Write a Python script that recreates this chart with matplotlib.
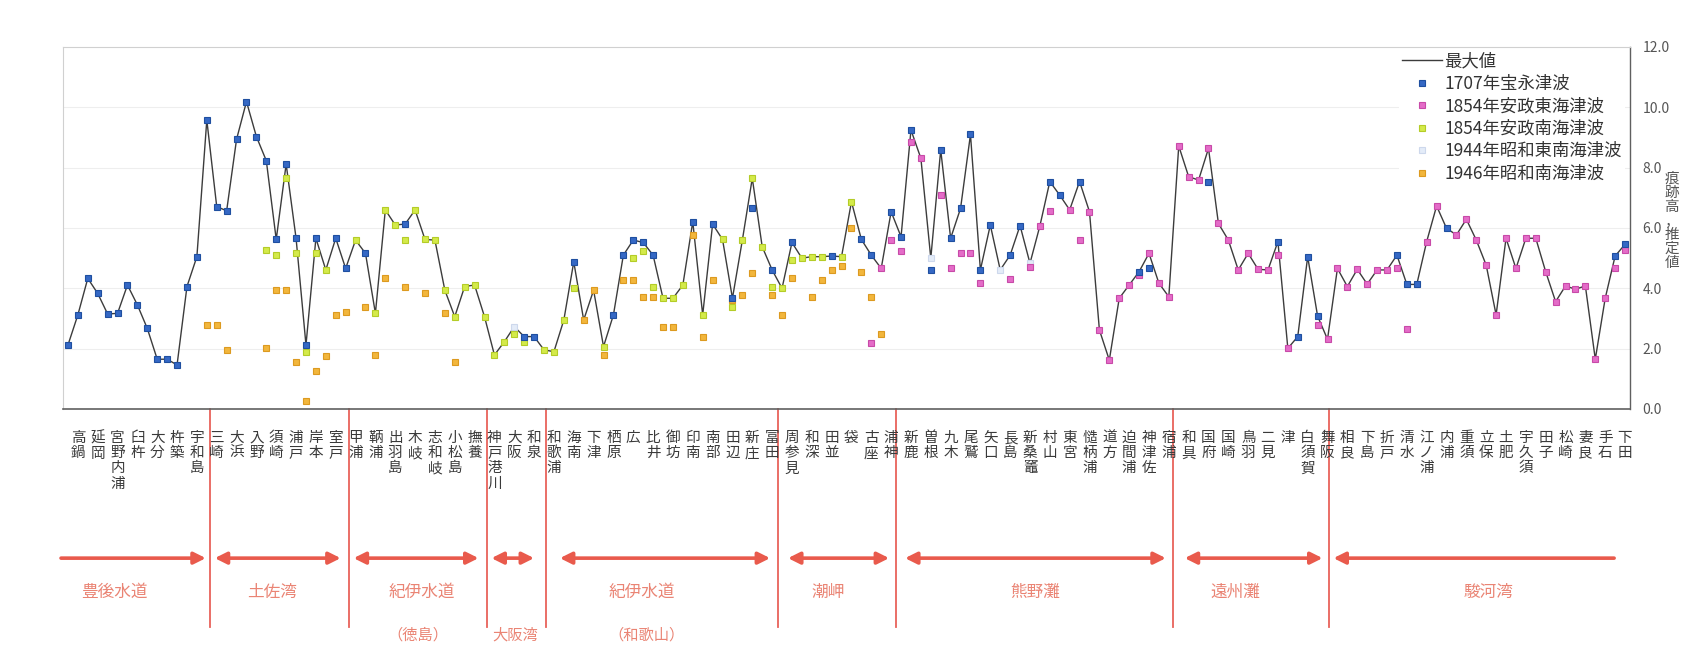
import numpy as np
import matplotlib
matplotlib.use('Agg')
import matplotlib.pyplot as plt
from matplotlib.lines import Line2D
import matplotlib.transforms as mtransforms

plt.rcParams['font.family'] = ['Noto Sans CJK JP', 'DejaVu Sans']

# ---------------- data ----------------
N_PTS = 158

# station labels shown under every other point (points 1,3,5,...)
stations = [
    '高鍋', '延岡', '宮野内浦', '臼杵', '大分', '杵築', '宇和島',
    '三崎', '大浜', '入野', '須崎', '浦戸', '岸本', '室戸',
    '甲浦', '鞆浦', '出羽島', '木岐', '志和岐', '小松島', '撫養',
    '神戸港川', '大阪', '和泉',
    '和歌浦', '海南', '下津', '栖原', '広', '比井', '御坊', '印南', '南部', '田辺', '新庄', '富田',
    '周参見', '和深', '田並', '袋', '古座', '浦神',
    '新鹿', '曽根', '九木', '尾鷲', '矢口', '長島', '新桑竈', '村山', '東宮', '慥柄浦', '道方', '迫間浦', '神津佐', '宿浦',
    '和具', '国府', '国崎', '鳥羽', '二見', '津', '白須賀', '舞阪',
    '相良', '下島', '折戸', '清水', '江ノ浦', '内浦', '重須', '立保', '土肥', '宇久須', '田子', '松崎', '妻良', '手石', '下田',
]

# point index -> height (m)
hoei_1707 = {
    0: 2.12, 1: 3.12, 2: 4.33, 3: 3.83, 4: 3.15, 5: 3.17, 6: 4.11, 7: 3.45, 8: 2.67, 9: 1.65,
    10: 1.65, 11: 1.46, 12: 4.06, 13: 5.05, 14: 9.58, 15: 6.71, 16: 6.57, 17: 8.94, 18: 10.19, 19: 9.03,
    20: 8.23, 21: 5.62, 22: 8.12, 23: 5.66, 24: 2.12, 25: 5.66, 27: 5.66, 28: 4.66, 30: 5.16, 34: 6.13,
    46: 2.4, 47: 2.4, 51: 4.88, 55: 3.12, 56: 5.1, 57: 5.6, 58: 5.52, 59: 5.1, 63: 6.21, 65: 6.13,
    67: 3.67, 69: 6.65, 71: 4.61, 73: 5.52, 77: 5.07, 80: 5.62, 81: 5.1, 83: 6.54, 84: 5.71, 85: 9.25,
    87: 4.61, 88: 8.59, 89: 5.66, 90: 6.65, 91: 9.1, 92: 4.61, 93: 6.1, 95: 5.1, 96: 6.08, 99: 7.54,
    100: 7.09, 102: 7.54, 108: 4.55, 109: 4.66, 115: 7.54, 122: 5.55, 124: 2.4, 125: 5.05, 126: 3.08,
    134: 5.1, 135: 4.13, 136: 4.13, 139: 5.99, 156: 5.07, 157: 5.46,
}
ansei_tokai_1854 = {
    81: 2.18, 82: 4.66, 83: 5.6, 84: 5.25, 85: 8.86, 86: 8.31, 88: 7.09, 89: 4.66, 90: 5.16, 91: 5.16,
    92: 4.17, 95: 4.3, 97: 4.7, 98: 6.07, 99: 6.57, 101: 6.6, 102: 5.6, 103: 6.54, 104: 2.62, 105: 1.62,
    106: 3.67, 107: 4.11, 108: 4.44, 109: 5.16, 110: 4.17, 111: 3.72, 112: 8.72, 113: 7.7, 114: 7.59,
    115: 8.64, 116: 6.15, 117: 5.6, 118: 4.61, 119: 5.16, 120: 4.63, 121: 4.61, 122: 5.1, 123: 2.01,
    126: 2.78, 127: 2.31, 128: 4.66, 129: 4.06, 130: 4.63, 131: 4.14, 132: 4.61, 133: 4.61, 134: 4.66,
    135: 2.64, 137: 5.55, 138: 6.73, 140: 5.77, 141: 6.29, 142: 5.6, 143: 4.77, 144: 3.12, 145: 5.66,
    146: 4.66, 147: 5.66, 148: 5.66, 149: 4.55, 150: 3.56, 151: 4.08, 152: 3.97, 153: 4.08, 154: 1.65,
    155: 3.67, 156: 4.66, 157: 5.27,
}
ansei_nankai_1854 = {
    20: 5.27, 21: 5.1, 22: 7.65, 23: 5.16, 24: 1.9, 25: 5.16, 26: 4.61, 29: 5.6, 31: 3.17, 32: 6.6,
    33: 6.1, 34: 5.6, 35: 6.6, 36: 5.62, 37: 5.6, 38: 3.94, 39: 3.06, 40: 4.06, 41: 4.11, 42: 3.06,
    43: 1.79, 44: 2.23, 45: 2.5, 46: 2.23, 48: 1.96, 49: 1.9, 50: 2.95, 51: 4.0, 54: 2.07, 57: 5.0,
    58: 5.25, 59: 4.06, 60: 3.67, 61: 3.67, 62: 4.11, 64: 3.12, 66: 5.62, 67: 3.39, 68: 5.6, 69: 7.65,
    70: 5.38, 71: 4.06, 72: 4.0, 73: 4.94, 74: 5.0, 75: 5.05, 76: 5.05, 78: 5.05, 79: 6.87,
}
showa_tonankai_1944 = {45: 2.73, 87: 5.0, 94: 4.61, 97: 4.83}
showa_nankai_1946 = {
    14: 2.78, 15: 2.78, 16: 1.96, 20: 2.01, 21: 3.94, 22: 3.94, 23: 1.57, 24: 0.28, 25: 1.26, 26: 1.76,
    27: 3.12, 28: 3.23, 30: 3.39, 31: 1.79, 32: 4.33, 34: 4.06, 36: 3.86, 38: 3.17, 39: 1.57, 52: 2.95,
    53: 3.94, 54: 1.79, 56: 4.28, 57: 4.28, 58: 3.72, 59: 3.72, 60: 2.73, 61: 2.73, 63: 5.77, 64: 2.4,
    65: 4.28, 67: 3.6, 68: 3.78, 69: 4.5, 71: 3.78, 72: 3.12, 73: 4.33, 75: 3.72, 76: 4.28, 77: 4.6,
    78: 4.74, 79: 6.0, 80: 4.55, 81: 3.72, 82: 2.5,
}

series_names = ['1707年宝永津波', '1854年安政東海津波', '1854年安政南海津波',
                '1944年昭和東南海津波', '1946年昭和南海津波']
series_data = [hoei_1707, ansei_tokai_1854, ansei_nankai_1854, showa_tonankai_1944, showa_nankai_1946]
series_face = ['#3568c4', '#e46cc8', '#d4ea4a', '#e4ecf8', '#f2b63c']
series_edge = ['#1f4fa0', '#c84aa8', '#b4cc28', '#cdd8ec', '#dc9a20']

# sea regions
region_names = ['豊後水道', '土佐湾', '紀伊水道', '大阪湾', '紀伊水道', '潮岬', '熊野灘', '遠州灘', '駿河湾']
region_sub = ['', '', '（徳島）', '', '（和歌山）', '', '', '', '']
region_bounds = [14.3, 28.3, 42.3, 48.2, 71.6, 83.5, 111.4, 127.1]
region_arrows = [(-0.7, 13.9), (14.8, 27.5), (28.8, 41.4), (42.7, 47.0), (49.6, 70.8),
                 (72.6, 82.8), (84.4, 110.7), (112.6, 126.5), (127.6, 155.9)]
region_text_x = [4.7, 20.6, 35.7, None, 57.9, 76.6, 97.5, 117.7, 143.2]
region_sub_x = [None, None, 35.3, 45.1, 58.3, None, None, None, None]

# ---------------- figure ----------------
W, H = 1686, 647
fig = plt.figure(figsize=(W / 100, H / 100), dpi=100)
ax = fig.add_axes([63 / W, (H - 409) / H, 1567 / W, 362 / H])

x = np.arange(N_PTS)
arrays = []
for d in series_data:
    a = np.full(N_PTS, np.nan)
    for k, v in d.items():
        a[k] = v
    arrays.append(a)
max_vals = np.nanmax(np.vstack(arrays), axis=0)

ax.set_xlim(-0.5, N_PTS - 0.5)
ax.set_ylim(0, 12)
for gy in [2, 4, 6, 8, 10]:
    ax.axhline(gy, color='#eeeeee', lw=0.8, zorder=0)

ax.plot(x, max_vals, color='#3c3c3c', lw=1.0, zorder=2)
for j in [4, 3, 2, 1, 0]:
    ax.plot(x, arrays[j], linestyle='None', marker='s', ms=5.0,
            mfc=series_face[j], mec=series_edge[j], mew=0.8, zorder=3 + (4 - j) * 0.1)

# axes styling
for s in ['left', 'top']:
    ax.spines[s].set_color('#d0d0d0')
    ax.spines[s].set_linewidth(0.8)
ax.spines['right'].set_color('#606060')
ax.spines['bottom'].set_color('#606060')
ax.spines['right'].set_linewidth(1.0)
ax.spines['bottom'].set_linewidth(1.2)

ax.yaxis.tick_right()
ax.set_yticks(np.arange(0, 12.1, 2))
ax.set_yticklabels([f'{v:.1f}' for v in np.arange(0, 12.1, 2)])
ax.tick_params(axis='y', length=0, pad=9, labelsize=10, labelcolor='#555555')

ax.set_xticks(np.arange(1, N_PTS, 2))
ax.set_xticklabels(['\n'.join(s) for s in stations], fontsize=10.5, color='#3a3a3a',
                   linespacing=1.1)
ax.tick_params(axis='x', length=0, pad=16)

# y label (vertical stacked)
ax.text(1.0267, 0.655, '\n'.join('痕跡高，推定値'), transform=ax.transAxes, ha='center',
        va='top', fontsize=10.5, color='#555555', linespacing=1.0)

# legend
handles = [Line2D([], [], color='#3c3c3c', lw=1.0)]
for j in range(5):
    handles.append(Line2D([], [], linestyle='None', marker='s', ms=5.0,
                          mfc=series_face[j], mec=series_edge[j], mew=0.8))
leg = ax.legend(handles, ['最大値'] + series_names, loc='upper right', bbox_to_anchor=(0.998, 1.0),
                fontsize=12.5, frameon=True, facecolor='white', edgecolor='none', framealpha=1,
                handlelength=2.3, handletextpad=0.1, labelspacing=0.26, borderaxespad=0.1,
                borderpad=0.2)
for t in leg.get_texts():
    t.set_color('#333333')

# region separators, arrows and names
trans = mtransforms.blended_transform_factory(ax.transData, ax.transAxes)
sep_col = '#e8625a'
for b in region_bounds:
    ax.plot([b, b], [0, -0.603], transform=trans, clip_on=False, color=sep_col, lw=1.3, zorder=1)

arrow_y = -0.412
for k, (x0, x1) in enumerate(region_arrows):
    if k == 0:
        style = '-|>,head_length=0.7,head_width=0.35'
    elif k == len(region_arrows) - 1:
        style = '<|-,head_length=0.7,head_width=0.35'
    else:
        style = '<|-|>,head_length=0.7,head_width=0.35'
    ax.annotate('', xy=(x1, arrow_y), xytext=(x0, arrow_y), xycoords=trans, textcoords=trans,
                arrowprops=dict(arrowstyle=style, color='#e95a4c', lw=2.6, shrinkA=0, shrinkB=0),
                annotation_clip=False)

txt_col = '#ea8474'
for k, name in enumerate(region_names):
    if region_text_x[k] is not None:
        ax.text(region_text_x[k], -0.506, name, transform=trans, ha='center', va='center',
                fontsize=12, color=txt_col)
    if region_sub_x[k] is not None:
        label = region_sub[k] if region_sub[k] else name
        ax.text(region_sub_x[k], -0.625, label, transform=trans, ha='center', va='center',
                fontsize=11, color=txt_col)

fig.savefig('out.png', dpi=100, facecolor='white')
